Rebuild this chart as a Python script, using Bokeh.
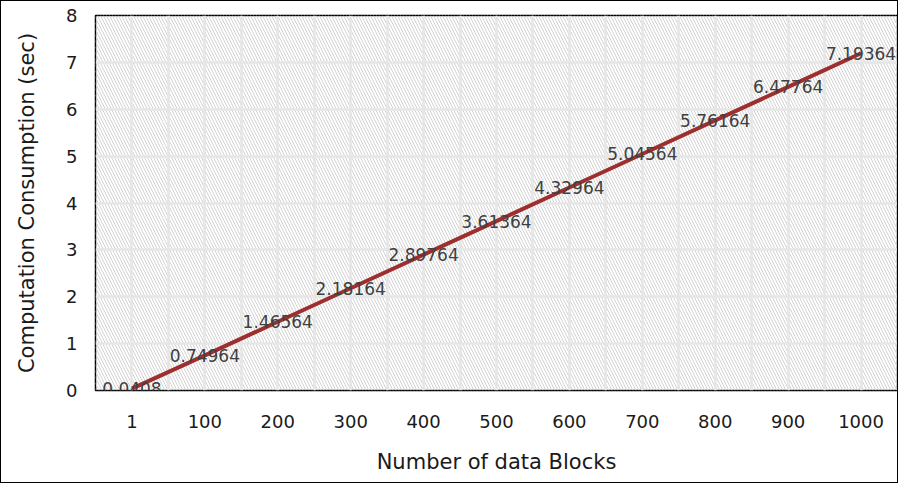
from bokeh.plotting import figure
from bokeh.models import ColumnDataSource, BoxAnnotation, FixedTicker, LabelSet
from bokeh.core.properties import value
from bokeh.embed import file_html
from bokeh.resources import INLINE

blocks = ["1", "100", "200", "300", "400", "500", "600", "700", "800", "900", "1000"]
consumption = [0.0408, 0.74964, 1.46564, 2.18164, 2.89764, 3.61364, 4.32964,
               5.04564, 5.76164, 6.47764, 7.19364]
labels = ["0.0408", "0.74964", "1.46564", "2.18164", "2.89764", "3.61364", "4.32964",
          "5.04564", "5.76164", "6.47764", "7.19364"]
y_ticks = [0, 1, 2, 3, 4, 5, 6, 7, 8]

FONT = "DejaVu Sans"

src = ColumnDataSource(dict(x=blocks, y=consumption, lab=labels))

p = figure(x_range=blocks, y_range=(0, 8), width=898, height=483,
           output_backend="svg", toolbar_location=None,
           min_border_left=94, min_border_right=2, min_border_top=14, min_border_bottom=94)
p.styles = {"border": "1px solid black"}
p.outline_line_color = "black"
p.outline_line_width = 1.5

# hatched background
bg = BoxAnnotation(fill_alpha=0, line_alpha=0, hatch_pattern="left_diagonal_line",
                   hatch_color="#d2d2d2", hatch_scale=6, hatch_weight=1, level="image")
p.add_layout(bg)

# grids
p.ygrid.ticker = FixedTicker(ticks=y_ticks)
p.ygrid.grid_line_color = "#e6e6e6"
p.ygrid.grid_line_width = 2.5
p.xgrid.ticker = FixedTicker(ticks=[0.5 * k for k in range(1, 22)])
p.xgrid.grid_line_color = "#e6e6e6"
p.xgrid.grid_line_width = 2.5

p.line("x", "y", source=src, line_color="#9e2f2f", line_width=4)

lbl = LabelSet(x="x", y="y", text="lab", source=src, text_align="center",
               text_baseline="middle", text_font=value(FONT), text_font_size="17px",
               text_color="#404040")
p.add_layout(lbl)

for ax in (p.xaxis[0], p.yaxis[0]):
    ax.axis_line_color = None
    ax.major_tick_line_color = None
    ax.minor_tick_line_color = None
    ax.major_label_text_font = FONT
    ax.major_label_text_font_size = "18px"
    ax.major_label_text_color = "#1a1a1a"
    ax.axis_label_text_font = FONT
    ax.axis_label_text_font_size = "21px"
    ax.axis_label_text_font_style = "normal"
    ax.axis_label_text_color = "#1a1a1a"

p.yaxis.ticker = FixedTicker(ticks=y_ticks)
p.yaxis.major_label_standoff = 12
p.yaxis.axis_label = "Computation Consumption (sec)"
p.yaxis.axis_label_standoff = 24
p.xaxis.major_label_standoff = 18
p.xaxis.axis_label = "Number of data Blocks"
p.xaxis.axis_label_standoff = 19

open("out.html", "w").write(file_html(p, INLINE))
